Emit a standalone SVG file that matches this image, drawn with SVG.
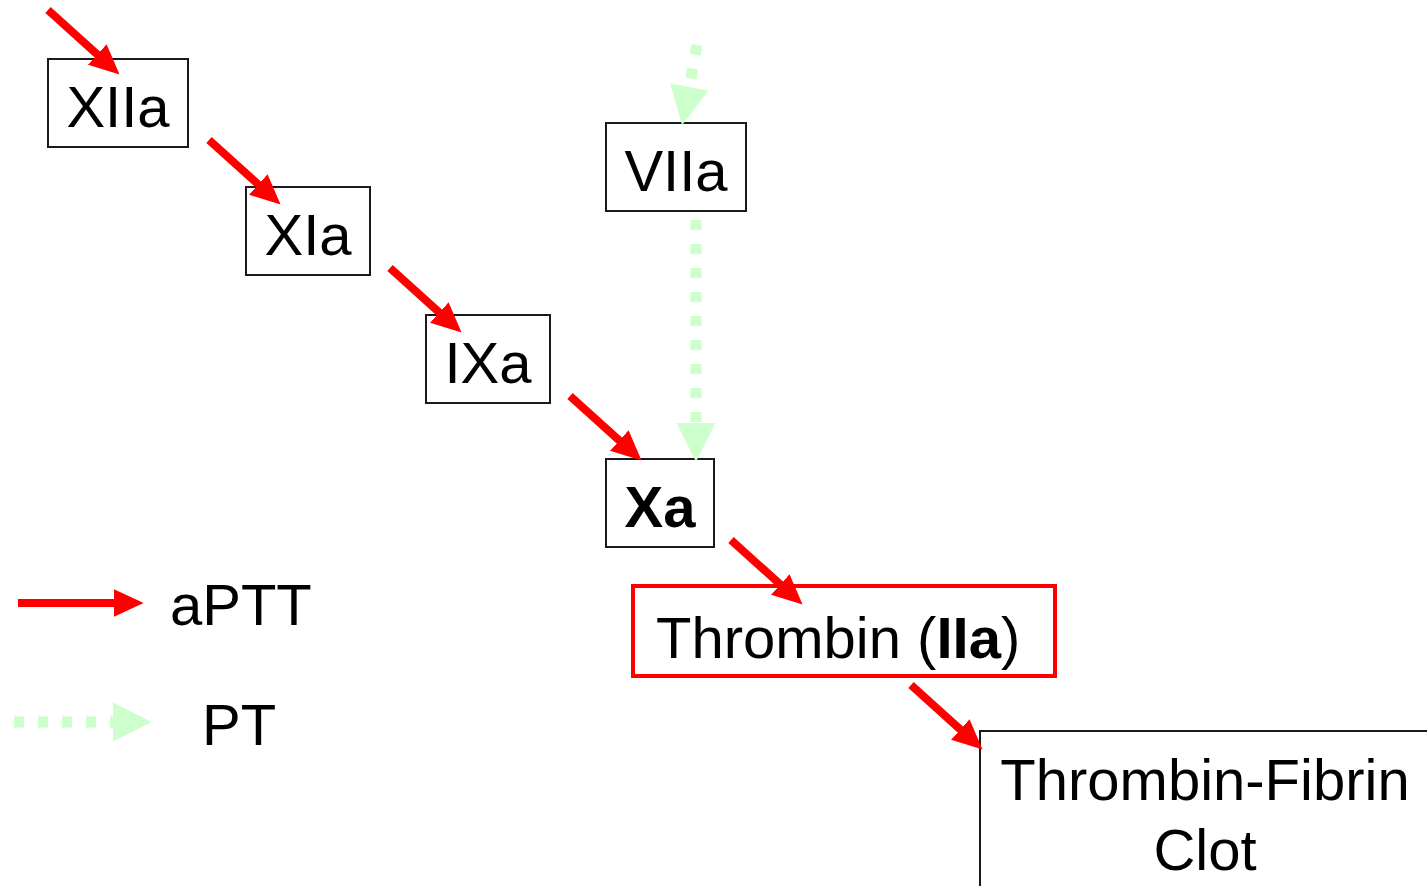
<svg xmlns="http://www.w3.org/2000/svg" width="1427" height="886" viewBox="0 0 1427 886">
<style>
.box{fill:#fff;stroke:#1a1a1a;stroke-width:2}
.rbox{fill:#fff;stroke:#ff0000;stroke-width:4}
.t{font-family:"Liberation Sans",Arial,sans-serif;font-size:58px;fill:#000}
.red{stroke:#ff0000;stroke-width:8;fill:none}
.grn{stroke:#ccffcc;stroke-width:11;stroke-dasharray:10 14;fill:none}
</style>
<defs>
<marker id="rh" markerUnits="userSpaceOnUse" markerWidth="30" markerHeight="30" viewBox="0 -13 26 26" refX="2" refY="0" orient="auto">
<path d="M0,-12 L26,0 L0,12 z" fill="#ff0000"/>
</marker>
<marker id="gh" markerUnits="userSpaceOnUse" markerWidth="40" markerHeight="40" viewBox="0 -18 36 36" refX="1" refY="0" orient="auto">
<path d="M0,-17.5 L35,0 L0,17.5 z" fill="#ccffcc"/>
</marker>
</defs>
<rect width="1427" height="886" fill="#fff"/>
<g id="XIIa"><rect class="box" x="48" y="59" width="140" height="88"/><text class="t" x="118" y="127" text-anchor="middle">XIIa</text></g>
<g id="XIa"><rect class="box" x="246" y="187" width="124" height="88"/><text class="t" x="308" y="255" text-anchor="middle">XIa</text></g>
<g id="IXa"><rect class="box" x="426" y="315" width="124" height="88"/><text class="t" x="488" y="383" text-anchor="middle">IXa</text></g>
<g id="VIIa"><rect class="box" x="606" y="123" width="140" height="88"/><text class="t" x="676" y="191" text-anchor="middle">VIIa</text></g>
<g id="Xa"><rect class="box" x="606" y="459" width="108" height="88"/><text class="t" x="660" y="527" text-anchor="middle" font-weight="bold">Xa</text></g>
<g id="Thrombin"><rect class="rbox" x="633" y="586" width="422" height="90"/><text class="t" x="656" y="658">Thrombin (<tspan font-weight="bold">IIa</tspan>)</text></g>
<g id="Clot"><rect class="box" x="980" y="731" width="460" height="170"/><text class="t" x="1205" y="800" text-anchor="middle">Thrombin-Fibrin</text><text class="t" x="1205" y="870" text-anchor="middle">Clot</text></g>
<g id="connectors">
<path class="red" d="M48,10 L99,56" marker-end="url(#rh)"/>
<path class="red" d="M209,140 L260,186" marker-end="url(#rh)"/>
<path class="red" d="M390,268 L441,314" marker-end="url(#rh)"/>
<path class="red" d="M570,396 L621,442" marker-end="url(#rh)"/>
<path class="red" d="M731,540 L782,586" marker-end="url(#rh)"/>
<path class="red" d="M911,685 L962,731" marker-end="url(#rh)"/>
<path class="grn" d="M697,45 L689,88" marker-end="url(#gh)"/>
<path class="grn" d="M696,220 L696,424" marker-end="url(#gh)"/>
</g>
<g id="legend">
<path class="red" d="M18,603 L116,603" marker-end="url(#rh)"/>
<text class="t" x="170" y="625">aPTT</text>
<path class="grn" d="M14,722 L114,722" marker-end="url(#gh)"/>
<text class="t" x="202" y="745">PT</text>
</g>
</svg>
